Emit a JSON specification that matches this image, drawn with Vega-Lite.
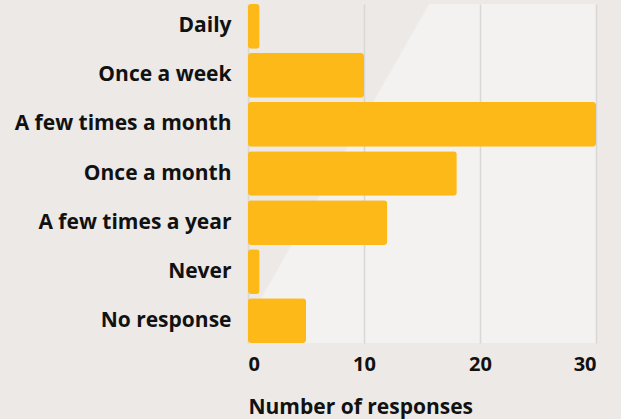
{
  "$schema": "https://vega.github.io/schema/vega-lite/v6.json",
  "width": 348,
  "height": 339,
  "autosize": {"type": "none"},
  "padding": {"left": 248, "top": 4, "right": 25, "bottom": 76},
  "background": "#ECE9E6",
  "data": {
    "values": [
      {"frequency": "Daily", "responses": 1},
      {"frequency": "Once a week", "responses": 10},
      {"frequency": "A few times a month", "responses": 30},
      {"frequency": "Once a month", "responses": 18},
      {"frequency": "A few times a year", "responses": 12},
      {"frequency": "Never", "responses": 1},
      {"frequency": "No response", "responses": 5}
    ]
  },
  "mark": {"type": "bar", "color": "#FDB918", "cornerRadius": 3},
  "encoding": {
    "y": {
      "field": "frequency",
      "type": "nominal",
      "sort": null,
      "title": null,
      "scale": {"paddingInner": 0.09, "paddingOuter": 0},
      "axis": {
        "domain": false,
        "ticks": false,
        "tickSize": 0,
        "labelPadding": 17,
        "labelLimit": 400,
        "labelFont": "Open Sans",
        "labelFontWeight": "bold",
        "labelFontSize": 21,
        "labelColor": "#111111"
      }
    },
    "x": {
      "field": "responses",
      "type": "quantitative",
      "title": "Number of responses",
      "scale": {"domain": [0, 30], "nice": false},
      "axis": {
        "values": [0, 10, 20, 30],
        "domain": false,
        "ticks": false,
        "tickSize": 0,
        "labelPadding": 11,
        "labelFont": "Open Sans",
        "labelFontWeight": "bold",
        "labelFontSize": 20,
        "labelColor": "#111111",
        "gridColor": "#DAD8D6",
        "gridWidth": 1.5,
        "titleFont": "Open Sans",
        "titleFontWeight": "bold",
        "titleFontSize": 21,
        "titleColor": "#111111",
        "titleAnchor": "start",
        "titlePadding": 22
      }
    }
  },
  "config": {
    "view": {
      "stroke": null,
      "fill": {
        "gradient": "linear",
        "x1": 0.517, "y1": 0,
        "x2": 1.517, "y2": 0.556,
        "stops": [
          {"offset": 0, "color": "#ECE9E6"},
          {"offset": 0.005, "color": "#F3F2F1"},
          {"offset": 1, "color": "#F3F2F1"}
        ]
      }
    }
  }
}
